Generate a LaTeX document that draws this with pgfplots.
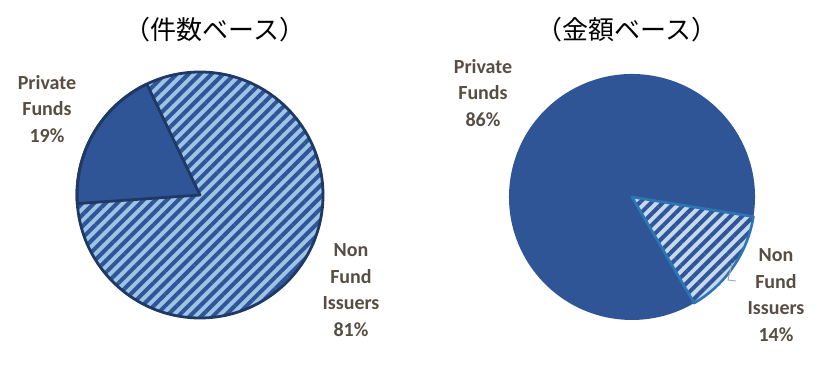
\documentclass[border=0pt]{standalone}
\usepackage{pgfplots}
\pgfplotsset{compat=1.18}
\usepackage{pgfplotstable}
\usetikzlibrary{patterns.meta}
\usepackage{fontspec}
\setmainfont{Carlito}
\newfontfamily\jp{Noto Sans CJK JP}
\definecolor{solidblue}{HTML}{2F5597}
\definecolor{stripeblue}{HTML}{2F5597}
\definecolor{lightA}{HTML}{9DC3E6}
\definecolor{lightB}{HTML}{C5DAEF}
\definecolor{navy}{HTML}{1F3864}
\definecolor{midblue}{HTML}{2E75B6}
\definecolor{labelc}{HTML}{574D42}

% share of each slice, percent
\pgfplotstableread{
slice value
PrivateFunds 19
NonFundIssuers 81
}\countdata
\pgfplotstableread{
slice value
PrivateFunds 86
NonFundIssuers 14
}\amountdata

\begin{document}
\begin{tikzpicture}
\pgfplotstablegetelem{0}{value}\of\countdata \let\cP\pgfplotsretval
\pgfplotstablegetelem{1}{value}\of\countdata \let\cN\pgfplotsretval
\pgfplotstablegetelem{0}{value}\of\amountdata \let\aP\pgfplotsretval
\pgfplotstablegetelem{1}{value}\of\amountdata \let\aN\pgfplotsretval
% left pie: Private Funds starts at 115.6 deg
\pgfmathsetmacro\La{115.6}
\pgfmathsetmacro\Lb{\La+3.6*\cP}
\pgfmathsetmacro\Lc{\Lb+3.6*\cN}
% right pie: Non Fund Issuers starts at -59.6 deg
\pgfmathsetmacro\Ra{-59.6}
\pgfmathsetmacro\Rb{\Ra+3.6*\aN}
\pgfmathsetmacro\Rc{\Rb+3.6*\aP}
\begin{axis}[
  x=1pt, y=1pt, xmin=0, xmax=823, ymin=0, ymax=390,
  hide axis, clip=false, scale only axis,
]
\coordinate (SW) at (axis cs:0,0);
\coordinate (NE) at (axis cs:823,390);
% ---- left pie
\fill[solidblue] (axis cs:200,195) -- ++(\La:123pt) arc[start angle=\La, end angle=\Lb, radius=123pt] -- cycle;
\fill[preaction={fill=lightA}, pattern={Lines[angle=45,distance=8.2pt,line width=4pt]}, pattern color=stripeblue]
  (axis cs:200,195) -- ++(\Lb:123pt) arc[start angle=\Lb, end angle=\Lc, radius=123pt] -- cycle;
\draw[navy, line width=2.8pt, line join=round] (axis cs:200,195) -- ++(\La:123pt) arc[start angle=\La, end angle=\Lb, radius=123pt] -- cycle;
\draw[navy, line width=2.8pt] (axis cs:200,195) circle[radius=123pt];
% ---- right pie
\fill[solidblue] (axis cs:632,193) -- ++(\Rb:123pt) arc[start angle=\Rb, end angle=\Rc, radius=123pt] -- cycle;
\fill[preaction={fill=lightB}, pattern={Lines[angle=45,distance=8.2pt,line width=4pt]}, pattern color=stripeblue]
  (axis cs:632,193) -- ++(\Ra:123pt) arc[start angle=\Ra, end angle=\Rb, radius=123pt] -- cycle;
\draw[midblue, line width=2.6pt, line join=round] (axis cs:632,193) -- ++(\Ra:123pt) arc[start angle=\Ra, end angle=\Rb, radius=123pt] -- cycle;
\draw[black!35, line width=0.9pt] (axis cs:732,127) -- (axis cs:728,110) -- (axis cs:736,109);
% ---- titles
\node[font=\jp\fontsize{26}{30}\selectfont] at (axis cs:215,360) {（件数ベース）};
\node[font=\jp\fontsize{26}{30}\selectfont] at (axis cs:627,360) {（金額ベース）};
% ---- labels
\tikzset{lab/.style={align=center, text=labelc, font=\fontsize{20}{26.5}\selectfont\bfseries, inner sep=0pt}}
\node[lab] at (axis cs:47,281) {Private\\Funds\\19\%};
\node[lab] at (axis cs:351,100) {Non\\Fund\\Issuers\\81\%};
\node[lab] at (axis cs:483,297) {Private\\Funds\\86\%};
\node[lab] at (axis cs:776,95) {Non\\Fund\\Issuers\\14\%};
\end{axis}
\pgfresetboundingbox
\path[use as bounding box] (SW) rectangle (NE);
\end{tikzpicture}
\end{document}
